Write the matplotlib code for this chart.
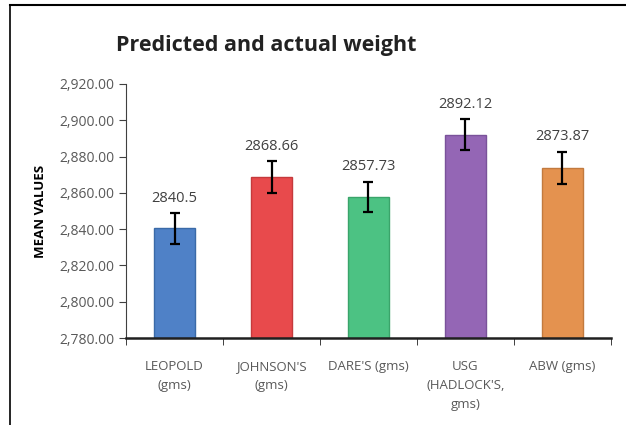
import matplotlib.pyplot as plt
from matplotlib.lines import Line2D
from matplotlib.ticker import FuncFormatter, FixedLocator

categories = ["LEOPOLD\n(gms)", "JOHNSON'S\n(gms)", "DARE'S (gms)",
              "USG\n(HADLOCK'S,\ngms)", "ABW (gms)"]
means = [2840.5, 2868.66, 2857.73, 2892.12, 2873.87]
errors = [8.5, 8.8, 8.4, 8.6, 8.8]
value_labels = ["2840.5", "2868.66", "2857.73", "2892.12", "2873.87"]
colors = ["#4f81c7", "#e84a4c", "#4cc283", "#9466b5", "#e4924f"]
edges = ["#3a6aa8", "#c53a3c", "#3aa46a", "#7a529a", "#c27a3e"]

plt.rcParams["font.family"] = ["Open Sans", "DejaVu Sans"]

fig = plt.figure(figsize=(6.26, 4.25), dpi=100)
ax = fig.add_axes([0.2013, 0.2047, 0.7747, 0.5977])

x = list(range(len(categories)))
ax.bar(x, [m - 2780 for m in means], bottom=2780, width=0.42,
       color=colors, edgecolor=edges, linewidth=1.0, zorder=2)
ax.errorbar(x, means, yerr=errors, fmt="none", ecolor="black",
            elinewidth=1.6, capsize=3.5, capthick=1.6, zorder=3)
for xi, m, e, lab in zip(x, means, errors, value_labels):
    ax.text(xi, m + e + 4, lab, ha="center", va="bottom",
            fontsize=10.5, color="#404040")

ax.set_xlim(-0.5, len(categories) - 0.5)
ax.set_ylim(2780, 2920)
ax.set_yticks(range(2780, 2921, 20))
ax.yaxis.set_major_formatter(FuncFormatter(lambda v, p: f"{v:,.2f}"))
ax.tick_params(axis="y", labelsize=10, labelcolor="#595959",
               direction="out", length=5, color="#404040")

ax.set_xticks(x)
ax.set_xticklabels(categories, fontsize=9.5, color="#595959",
                   linespacing=1.6, va="top")
ax.tick_params(axis="x", which="major", length=0, pad=16)
ax.xaxis.set_minor_locator(FixedLocator([i - 0.5 for i in range(len(categories) + 1)]))
ax.tick_params(axis="x", which="minor", length=5, direction="out", color="#202020")

for s in ["top", "right"]:
    ax.spines[s].set_visible(False)
ax.spines["bottom"].set_color("#202020")
ax.spines["bottom"].set_linewidth(1.8)
ax.spines["left"].set_color("#404040")

ax.set_ylabel("MEAN VALUES", fontsize=9.5, fontweight="bold", labelpad=9)

fig.text(0.425, 0.893, "Predicted and actual weight", ha="center",
         va="center", fontsize=15.5, fontweight="bold", color="#222222")

# page frame lines
fig.add_artist(Line2D([10 / 626, 10 / 626], [0, 1 - 5 / 425],
                      transform=fig.transFigure, color="black", linewidth=1.2))
fig.add_artist(Line2D([10 / 626, 1], [1 - 5 / 425, 1 - 5 / 425],
                      transform=fig.transFigure, color="black", linewidth=1.5))

fig.savefig("out.png", dpi=100)
